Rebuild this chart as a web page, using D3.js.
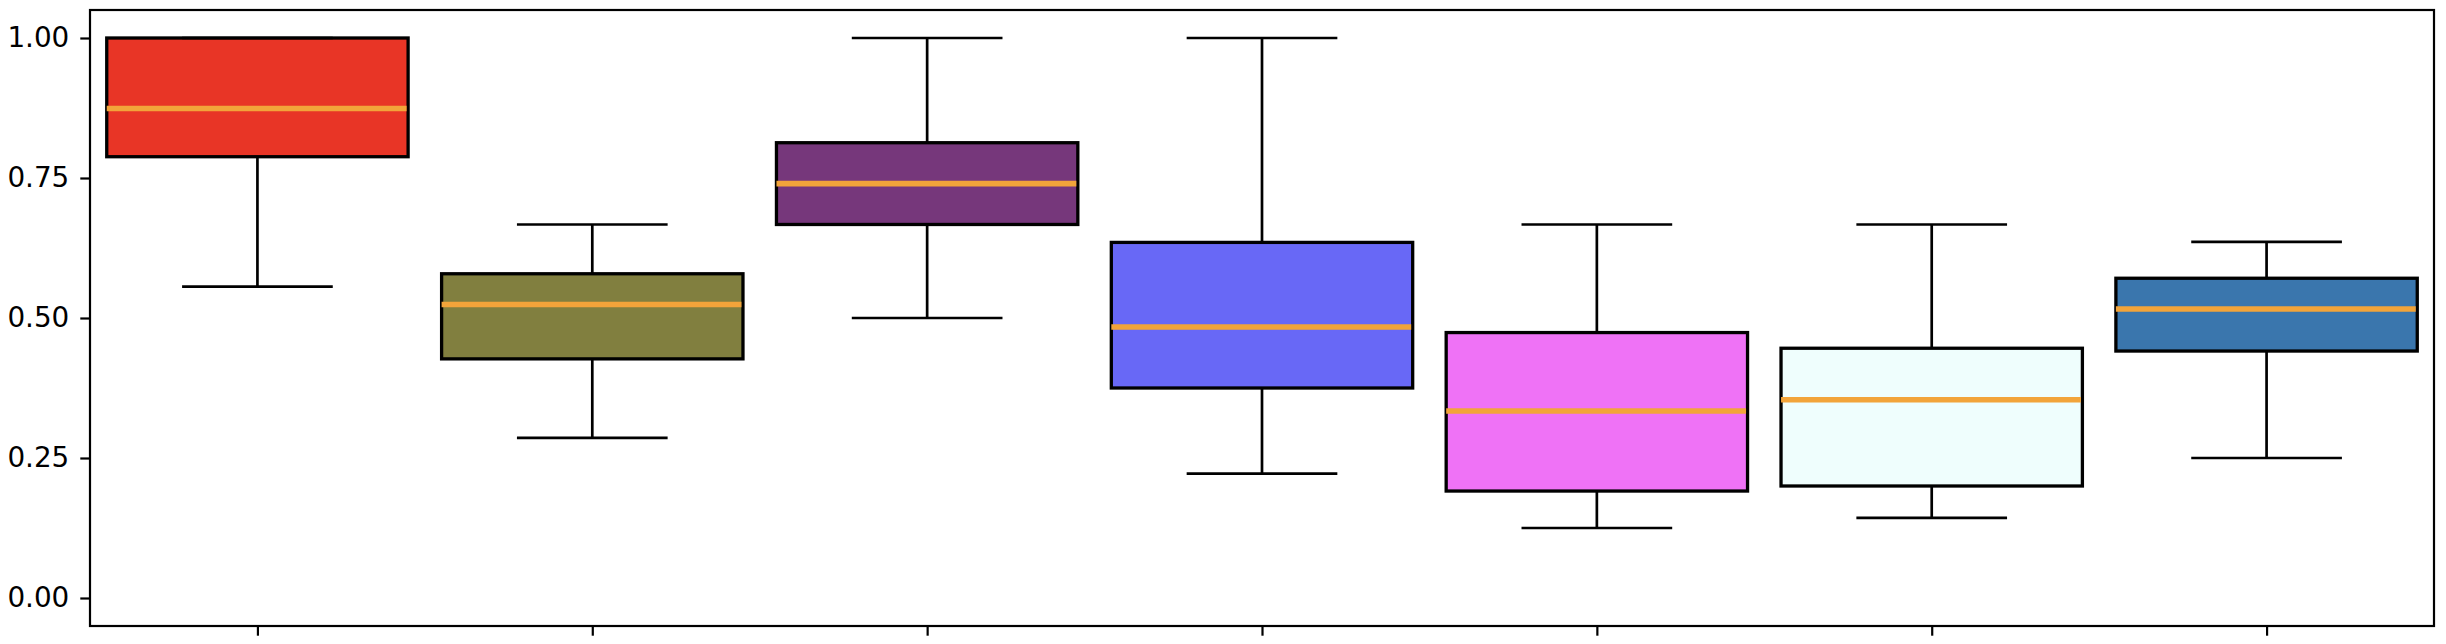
<!DOCTYPE html>
<html>
<head>
<meta charset="utf-8">
<script src="https://cdn.jsdelivr.net/npm/d3@7"></script>
<style>
  body { margin: 0; background: #fff; }
  svg { display: block; }
  .axis text { font-family: "DejaVu Sans", sans-serif; font-size: 27.8px; fill: #000; }
  .axis path, .axis line { stroke: #000; stroke-width: 2.2px; }
</style>
</head>
<body>
<svg id="chart"></svg>
<script>
// box stats (7 groups)
const groups = [1, 2, 3, 4, 5, 6, 7]
const whiskLow = [0.556, 0.286, 0.500, 0.222, 0.125, 0.143, 0.250]
const q1 = [0.788, 0.427, 0.667, 0.375, 0.191, 0.200, 0.441]
const median = [0.874, 0.524, 0.740, 0.484, 0.334, 0.354, 0.516]
const q3 = [1.000, 0.579, 0.813, 0.635, 0.474, 0.446, 0.571]
const whiskHigh = [1.000, 0.667, 1.000, 1.000, 0.667, 0.667, 0.636]
const boxColors = ["#e83526", "#817f3f", "#76377b", "#6868f6", "#ef72f6", "#effefd", "#3a76ad"]
const yTicks = [0, 0.25, 0.5, 0.75, 1.0]

const width = 2446, height = 644
const margin = {top: 10, right: 12, bottom: 18, left: 90}

const svg = d3.select("#chart")
  .attr("width", width)
  .attr("height", height)

const x = d3.scaleLinear()
  .domain([0.5, 7.5])
  .range([margin.left, width - margin.right])

const y = d3.scaleLinear()
  .domain([-0.05, 1.05])
  .range([height - margin.bottom, margin.top])

const boxW = 0.9, capW = 0.45

const data = groups.map((g, i) => ({
  g: g, lo: whiskLow[i], q1: q1[i], med: median[i], q3: q3[i], hi: whiskHigh[i], color: boxColors[i]
}))

const plot = svg.append("g")

// boites
plot.selectAll("rect.box")
  .data(data)
  .join("rect")
    .attr("class", "box")
    .attr("x", d => x(d.g - boxW / 2))
    .attr("width", d => x(d.g + boxW / 2) - x(d.g - boxW / 2))
    .attr("y", d => y(d.q3))
    .attr("height", d => y(d.q1) - y(d.q3))
    .attr("fill", d => d.color)
    .attr("stroke", "#000")
    .attr("stroke-width", 3.3)

// moustaches
plot.selectAll("line.whisk-lo")
  .data(data)
  .join("line")
    .attr("x1", d => x(d.g)).attr("x2", d => x(d.g))
    .attr("y1", d => y(d.q1)).attr("y2", d => y(d.lo))
    .attr("stroke", "#000").attr("stroke-width", 2.7)

plot.selectAll("line.whisk-hi")
  .data(data)
  .join("line")
    .attr("x1", d => x(d.g)).attr("x2", d => x(d.g))
    .attr("y1", d => y(d.q3)).attr("y2", d => y(d.hi))
    .attr("stroke", "#000").attr("stroke-width", 2.7)

// caps
const caps = data.flatMap(d => [{g: d.g, v: d.lo}, {g: d.g, v: d.hi}])
plot.selectAll("line.cap")
  .data(caps)
  .join("line")
    .attr("x1", d => x(d.g - capW / 2)).attr("x2", d => x(d.g + capW / 2))
    .attr("y1", d => y(d.v)).attr("y2", d => y(d.v))
    .attr("stroke", "#000").attr("stroke-width", 2.7)

// medianes
plot.selectAll("line.med")
  .data(data)
  .join("line")
    .attr("x1", d => x(d.g - boxW / 2)).attr("x2", d => x(d.g + boxW / 2) - 1.5)
    .attr("y1", d => y(d.med)).attr("y2", d => y(d.med))
    .attr("stroke", "#f2a43a").attr("stroke-width", 5.6)

// axes
svg.append("g")
  .attr("class", "axis")
  .attr("transform", `translate(${margin.left},0)`)
  .call(d3.axisLeft(y).tickValues(yTicks).tickFormat(d3.format(".2f")).tickSize(9.7).tickPadding(11).tickSizeOuter(0))
  .call(g => g.select(".domain").remove())

svg.append("g")
  .attr("class", "axis")
  .attr("transform", `translate(0,${height - margin.bottom})`)
  .call(d3.axisBottom(x).tickValues(groups).tickFormat("").tickSize(9.7).tickSizeOuter(0))
  .call(g => g.select(".domain").remove())

// cadre
svg.append("rect")
  .attr("x", margin.left)
  .attr("y", margin.top)
  .attr("width", width - margin.left - margin.right)
  .attr("height", height - margin.top - margin.bottom)
  .attr("fill", "none")
  .attr("stroke", "#000")
  .attr("stroke-width", 2.2)
</script>
</body>
</html>
